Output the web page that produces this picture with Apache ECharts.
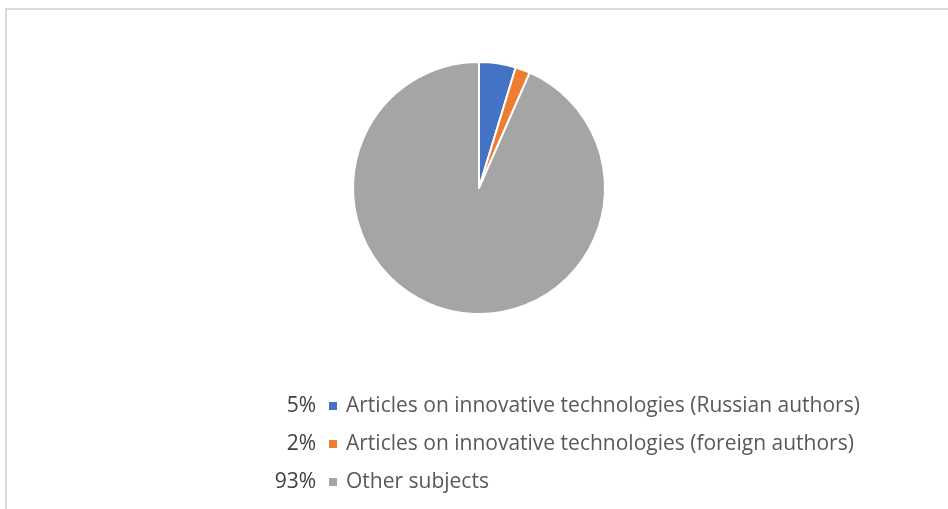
<!DOCTYPE html>
<html>
<head>
<meta charset="utf-8">
<script src="https://cdn.jsdelivr.net/npm/echarts@6/dist/echarts.min.js"></script>
<style>
	html, body { margin: 0; padding: 0; background: #fff; }
	.wrap { position: relative; width: 948px; height: 509px; overflow: hidden; }
	.frame { position: absolute; left: 5px; top: 8px; width: 1000px; height: 600px; border-left: 2px solid #d9d9d9; border-top: 2px solid #d9d9d9; }
	#chart { position: absolute; left: 0; top: 0; width: 948px; height: 509px; }
</style>
</head>
<body>
<div class="wrap">
	<div class="frame"></div>
	<div id="chart"></div>
</div>
<script>
// categories and shares
const categories = [
	'Articles on innovative technologies (Russian authors)',
	'Articles on innovative technologies (foreign authors)',
	'Other subjects'
];
const values = [4.7, 1.9, 93.4];
const colors = ['#4472c4', '#ed7d31', '#a5a5a5'];

const total = values.reduce((a, b) => a + b, 0);
const pct = values.map(v => Math.round((v / total) * 100) + '%');

const FONT = 'Open Sans';
const FS = 21;
const PW = 50; // width of percent column

// measure the percent text so it can be right aligned in its column
const ctx = document.createElement('canvas').getContext('2d');
ctx.font = FS + 'px "' + FONT + '"';

const rich = {
	n: { color: '#595959', fontSize: FS, fontFamily: FONT },
	g1: { width: 13 },
	g2: { width: 9 }
};
colors.forEach((c, i) => {
	const w = ctx.measureText(pct[i]).width;
	rich['p' + i] = { color: '#404040', fontSize: FS, fontFamily: FONT, padding: [0, 0, 0, Math.max(0, PW - w)] };
	rich['m' + i] = { width: 8, height: 8, backgroundColor: c };
});

const option = {
	animation: false,
	color: colors,
	legend: {
		orient: 'vertical',
		left: 256,
		top: 382,
		icon: 'none',
		itemWidth: 0,
		itemHeight: 8,
		itemGap: 0,
		selectedMode: false,
		data: categories,
		formatter: name => {
			const i = categories.indexOf(name);
			return '{p' + i + '|' + pct[i] + '}{g1|}{m' + i + '|}{g2|}{n|' + name + '}';
		},
		textStyle: { rich: rich, height: 38, lineHeight: 38 }
	},
	series: [
		{
			type: 'pie',
			center: [479, 188],
			radius: 126,
			startAngle: 90,
			clockwise: true,
			label: { show: false },
			labelLine: { show: false },
			emphasis: { disabled: true },
			itemStyle: { borderColor: '#fff', borderWidth: 2 },
			data: categories.map((n, i) => ({ name: n, value: values[i] }))
		}
	]
};

const myEcharts = echarts.init(document.getElementById('chart'));
myEcharts.setOption(option);
</script>
</body>
</html>
